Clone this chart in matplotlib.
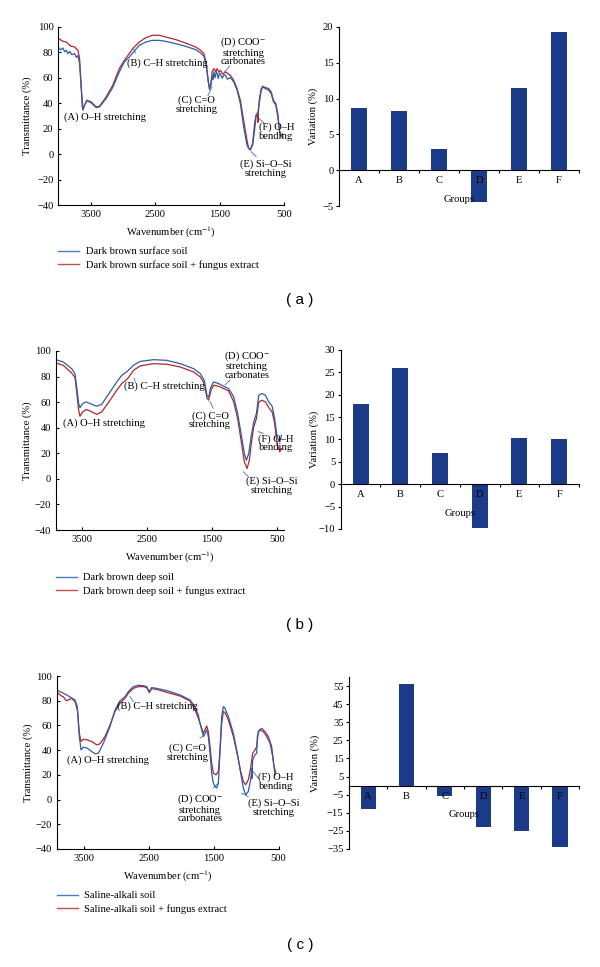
import numpy as np
import matplotlib
matplotlib.use("Agg")
import matplotlib.pyplot as plt
from matplotlib.lines import Line2D

W, H = 600, 967
plt.rcParams['font.family'] = ['Liberation Serif', 'DejaVu Serif']
plt.rcParams['mathtext.fontset'] = 'stix'
FS = 7.6

# ---------------- data ----------------
groups = ["A", "B", "C", "D", "E", "F"]
var_a = [8.7, 8.3, 2.9, -4.4, 11.5, 19.3]
var_b = [17.9, 26.0, 7.0, -9.8, 10.3, 10.1]
var_c = [-13.0, 56.0, -6.0, -23.0, -25.0, -34.0]

# (a) dark brown surface soil
a_blue_wn = [4004, 3960, 3930, 3900, 3875, 3850, 3820, 3790, 3747, 3720, 3695, 3670, 3644, 3618, 3593, 3557, 3490, 3413, 3361,
             3258, 3156, 3053, 2976, 2899, 2847, 2744, 2642, 2539, 2436, 2333, 2179, 2025, 1871, 1794, 1742,
             1706, 1675, 1655, 1634, 1614, 1600, 1588, 1570, 1550, 1537, 1520, 1500, 1485, 1460, 1430, 1408, 1380, 1331, 1280,
             1228, 1177, 1126, 1074, 1048, 1023, 987, 956, 935, 904, 884, 853, 827, 791, 740, 699, 663, 627,
             596, 570, 545, 524]
a_blue_T = [84.3, 82.0, 83.5, 80.5, 81.7, 79.0, 80.8, 78.2, 79.1, 76.0, 77.7, 71.2, 51.6, 35.9, 38.5, 41.9, 40.3, 36.6, 37.2,
            43.7, 52.4, 64.7, 72.5, 76.4, 79.6, 85.6, 88.2, 89.5, 89.5, 88.7, 86.9, 84.8, 82.2, 79.6, 77.0,
            69.9, 56.8, 51.6, 54.2, 62.0, 58.5, 64.7, 60.0, 65.0, 63.4, 59.5, 63.8, 62.8, 59.8, 62.5, 62.0, 59.0, 60.2, 56.8,
            50.3, 39.8, 21.5, 7.1, 4.5, 3.7, 8.4, 24.1, 30.6, 33.2, 39.8, 50.3, 52.9, 51.6, 50.3, 47.6, 41.1, 38.5,
            29.3, 17.5, 14.9, 13.6]
a_red_wn = [4004, 3940, 3875, 3810, 3747, 3695, 3670, 3644, 3629, 3618, 3593, 3557, 3490, 3413, 3361,
            3258, 3156, 3053, 2976, 2899, 2847, 2744, 2642, 2539, 2436, 2333, 2179, 2025, 1871, 1794, 1742,
            1706, 1675, 1655, 1634, 1614, 1588, 1560, 1537, 1510, 1485, 1450, 1408, 1331, 1280,
            1228, 1177, 1126, 1074, 1048, 1023, 987, 956, 935, 910, 904, 898, 884, 853, 827, 791, 740, 699, 663, 627,
            596, 570, 545, 524]
a_red_T = [91.4, 89.0, 88.2, 85.0, 84.3, 81.7, 75.1, 52.9, 37.2, 34.6, 38.5, 42.4, 41.1, 37.2, 37.7,
           45.0, 54.2, 67.3, 73.8, 79.1, 83.0, 88.2, 91.6, 93.5, 93.5, 92.1, 90.1, 87.4, 84.3, 81.7, 79.1,
           71.2, 58.1, 50.8, 55.5, 64.7, 67.3, 65.0, 67.3, 64.5, 66.0, 63.0, 64.7, 62.0, 58.1,
           51.6, 42.4, 26.7, 11.0, 4.5, 3.1, 7.1, 18.8, 29.3, 31.0, 25.0, 32.0, 42.4, 51.6, 53.4, 52.4, 51.6, 49.0, 42.4, 39.8,
           31.9, 18.8, 13.6, 16.2]

# (b) dark brown deep soil
b_blue_wn = [3901, 3788, 3659, 3608, 3582, 3551, 3531, 3490, 3438, 3377, 3274, 3197, 3068, 2965, 2888, 2837, 2786, 2708,
             2606, 2400, 2194, 1989, 1783, 1680, 1619, 1578, 1552, 1516, 1475, 1398, 1321, 1244, 1166, 1105, 1053,
             1002, 971, 935, 899, 858, 817, 781, 730, 678, 627, 575, 540, 498, 457, 430]
b_blue_T = [93.2, 91.4, 86.2, 82.3, 71.9, 58.9, 55.7, 58.9, 60.2, 58.9, 56.8, 58.3, 68.0, 75.8, 81.0, 82.8, 84.9, 88.8,
            91.9, 93.2, 92.7, 90.1, 86.2, 82.3, 77.1, 65.4, 64.1, 71.9, 75.8, 74.5, 72.4, 70.6, 64.1, 51.0, 35.4,
            19.8, 14.6, 19.8, 32.8, 44.5, 51.0, 65.4, 66.7, 65.4, 60.2, 56.8, 48.4, 32.8, 28.9, 34.1]
b_red_wn = [3901, 3788, 3659, 3608, 3582, 3551, 3531, 3490, 3438, 3377, 3274, 3197, 3068, 2965, 2888, 2837, 2786, 2708,
            2606, 2400, 2194, 1989, 1783, 1680, 1619, 1578, 1552, 1516, 1475, 1398, 1321, 1244, 1166, 1105, 1053,
            1002, 961, 925, 899, 858, 817, 781, 730, 678, 627, 575, 540, 498, 457, 432]
b_red_T = [90.6, 88.8, 82.8, 79.2, 68.0, 53.6, 49.0, 52.3, 54.2, 53.1, 50.5, 52.3, 61.5, 69.3, 74.5, 76.6, 79.2, 84.9,
           88.3, 90.1, 89.6, 87.5, 83.6, 79.7, 74.5, 63.5, 61.5, 69.3, 73.2, 72.4, 70.6, 68.8, 60.2, 47.1, 30.2,
           13.3, 8.1, 14.6, 26.3, 40.6, 47.1, 60.2, 61.5, 60.2, 55.7, 52.3, 44.5, 27.6, 21.1, 23.7]

# (c) saline-alkali soil
c_blue_wn = [3916, 3762, 3633, 3597, 3567, 3541, 3505, 3444, 3377, 3326, 3274, 3197, 3095, 3018, 2941, 2864, 2813, 2736,
             2659, 2582, 2531, 2490, 2454, 2377, 2223, 2017, 1864, 1787, 1736, 1710, 1684, 1659, 1633, 1608, 1582,
             1556, 1531, 1505, 1479, 1454, 1428, 1402, 1377, 1351, 1326, 1274, 1197, 1136, 1084, 1044, 1008, 967,
             931, 915, 912, 900, 864, 838, 828, 797, 736, 685, 633, 592, 556]
c_blue_T = [88.7, 84.7, 80.6, 75.2, 51.0, 40.2, 42.4, 41.6, 38.9, 37.0, 37.5, 45.6, 59.1, 72.5, 79.8, 83.3, 87.3, 91.4,
            92.5, 92.2, 91.4, 87.3, 90.6, 90.0, 88.2, 84.7, 80.6, 75.2, 68.5, 61.8, 56.4, 51.0, 53.7, 56.4, 51.0,
            37.5, 21.4, 13.3, 10.6, 9.3, 13.3, 40.2, 67.2, 75.2, 73.9, 67.2, 53.7, 37.5, 21.4, 9.3, 3.9, 6.6,
            16.0, 25.0, 17.0, 32.2, 36.2, 37.5, 51.0, 56.4, 55.0, 51.0, 45.6, 34.8, 20.0]
c_red_wn = [3916, 3850, 3813, 3770, 3736, 3685, 3633, 3597, 3567, 3541, 3505, 3444, 3377, 3300, 3249, 3172, 3095, 3018,
            2941, 2864, 2813, 2736, 2659, 2582, 2531, 2490, 2454, 2377, 2223, 2017, 1864, 1787, 1736, 1684, 1659,
            1633, 1608, 1582, 1556, 1531, 1505, 1464, 1428, 1402, 1377, 1351, 1326, 1274, 1197, 1136, 1084, 1044,
            1008, 967, 931, 900, 864, 838, 813, 762, 710, 659, 608, 572, 541]
c_red_T = [87.3, 84.0, 83.3, 80.0, 80.6, 81.9, 79.3, 72.5, 53.7, 47.0, 48.8, 48.3, 47.0, 44.3, 45.1, 51.0, 60.4, 71.2,
           77.9, 82.0, 86.0, 90.0, 91.4, 91.4, 90.6, 86.5, 89.8, 89.2, 86.8, 83.8, 79.8, 72.5, 65.8, 57.7, 53.7,
           56.4, 59.6, 55.0, 42.9, 29.5, 21.4, 20.0, 22.7, 40.2, 61.8, 71.2, 70.4, 64.5, 51.0, 36.2, 22.7, 14.6,
           12.0, 16.0, 25.4, 37.5, 40.2, 42.9, 55.0, 57.7, 55.0, 51.0, 42.9, 26.8, 21.4]

# legend labels
leg_a = ["Dark brown surface soil", "Dark brown surface soil + fungus extract"]
leg_b = ["Dark brown deep soil", "Dark brown deep soil + fungus extract"]
leg_c = ["Saline-alkali soil", "Saline-alkali soil + fungus extract"]

BLUE = '#2E5DA8'
RED = '#B2262B'
PTR = '#3A6FB5'
NAVY = '#1B3A87'


def rect(l, r, t, b):
    return [l / W, 1 - b / H, (r - l) / W, (b - t) / H]


fig = plt.figure(figsize=(W / 100, H / 100), dpi=100)


def ftir(box, xlim, bw, bt, rw, rt, labels, ann, ptrs, leg_top, ylab_x):
    ax = fig.add_axes(rect(*box))
    ax.plot(rw, rt, color=RED, lw=0.9)
    ax.plot(bw, bt, color=BLUE, lw=0.9)
    ax.set_xlim(*xlim)
    ax.set_ylim(-40, 100)
    ax.set_xticks([3500, 2500, 1500, 500])
    ax.set_yticks(np.arange(-40, 101, 20))
    ax.spines['top'].set_visible(False)
    ax.spines['right'].set_visible(False)
    ax.tick_params(direction='in', length=2.5, width=0.8, labelsize=FS, pad=3.5)
    ax.set_xlabel('Wavenumber (cm$^{-1}$)', fontsize=FS, labelpad=4)
    ax.set_ylabel('Transmittance (%)', fontsize=FS)
    ax.yaxis.set_label_coords(ylab_x, 0.5)
    for txt, x, y, ha in ann:
        ax.text(x, y, txt, fontsize=FS, ha=ha, va='center', linespacing=0.95)
    for (x0, y0, x1, y1) in ptrs:
        ax.plot([x0, x1], [y0, y1], color=PTR, lw=0.6)
    handles = [Line2D([], [], color='#4A7EC0', lw=1.0), Line2D([], [], color='#C0504D', lw=1.0)]
    fig.legend(handles, labels, loc='upper left',
               bbox_to_anchor=(box[0] / W, 1 - leg_top / H), frameon=False,
               fontsize=FS, borderpad=0, borderaxespad=0, handlelength=2.0,
               handletextpad=0.6, labelspacing=0.35)
    return ax


def bars(box, vals, ylim, yticks, ylab_x):
    ax = fig.add_axes(rect(*box))
    x = np.arange(len(groups)) + 0.5
    ax.bar(x, vals, width=0.4, color=NAVY, zorder=2)
    ax.set_axisbelow(False)
    ax.set_xlim(0, 6)
    ax.set_ylim(*ylim)
    ax.set_yticks(yticks)
    ax.spines['top'].set_visible(False)
    ax.spines['right'].set_visible(False)
    ax.spines['bottom'].set_position(('data', 0))
    ax.set_xticks(np.arange(7))
    ax.set_xticklabels([])
    ax.set_xticks(x, minor=True)
    ax.set_xticklabels(groups, minor=True)
    ax.tick_params(axis='x', which='major', direction='out', length=2.5, width=0.8)
    ax.tick_params(axis='x', which='minor', length=0, labelsize=FS, pad=4.5)
    ax.tick_params(axis='y', direction='out', length=2.5, width=0.8, labelsize=FS, pad=1.5)
    ax.set_ylabel('Variation (%)', fontsize=FS)
    ax.yaxis.set_label_coords(ylab_x, 0.5)
    ax.annotate('Groups', xy=(0.5, 0), xycoords=('axes fraction', 'data'),
                xytext=(0, -21), textcoords='offset points', ha='center', va='center',
                fontsize=FS, zorder=6)
    return ax


# ---------- (a) ----------
ann_a = [("(A) O–H stretching", 3919, 29.2, 'left'),
         ("(B) C–H stretching", 2942, 71.4, 'left'),
         ("(C) C=O\nstretching", 1857, 38.7, 'center'),
         ("(D) COO$^{-}$\nstretching\ncarbonates", 1128, 81.1, 'center'),
         ("(F) O–H\nbending", 616, 17.4, 'center'),
         ("(E) Si–O–Si\nstretching", 787, -11.7, 'center')]
ptr_a = [(2833, 82.7, 2802, 79.6), (1680, 46, 1615, 53), (1423, 64.6, 1345, 69.3),
         (890, 28.2, 817, 24.7), (1009, 1.9, 931, -2.0)]
ftir((58.3, 284, 27, 205), (4000, 500), a_blue_wn, a_blue_T, a_red_wn, a_red_T,
     leg_a, ann_a, ptr_a, 247, -0.115)
bars((339, 579, 27, 206), var_a, (-5, 20), np.arange(-5, 21, 5), -0.088)
fig.text(0.5, 1 - 300 / H, '( a )', ha='center', va='center', fontsize=11,
         family=['Liberation Sans', 'DejaVu Sans'])

# ---------- (b) ----------
ann_b = [("(A) O–H stretching", 3797, 43.9, 'left'),
         ("(B) C–H stretching", 2854, 72.1, 'left'),
         ("(C) C=O\nstretching", 1531, 46.0, 'center'),
         ("(D) COO$^{-}$\nstretching\ncarbonates", 966, 89.3, 'center'),
         ("(F) O–H\nbending", 520, 27.8, 'center'),
         ("(E) Si–O–Si\nstretching", 581, -5.6, 'center')]
ptr_b = [(2700, 78.9, 2685, 76.5), (1531, 60.4, 1480, 55.2), (1300, 73.4, 1223, 77.3),
         (788, 36.9, 711, 35.6), (1019, 5.6, 942, 1.7)]
ftir((56, 283.5, 351, 530), (3900, 400), b_blue_wn, b_blue_T, b_red_wn, b_red_T,
     leg_b, ann_b, ptr_b, 573, -0.106)
bars((340.7, 579, 350, 529), var_b, (-10, 30), np.arange(-10, 31, 5), -0.091)
fig.text(0.5, 1 - 625 / H, '( b )', ha='center', va='center', fontsize=11,
         family=['Liberation Sans', 'DejaVu Sans'])

# ---------- (c) ----------
ann_c = [("(A) O–H stretching", 3762, 32.0, 'left'),
         ("(B) C–H stretching", 2992, 75.2, 'left'),
         ("(C) C=O\nstretching", 1906, 37.7, 'center'),
         ("(D) COO$^{-}$\nstretching\ncarbonates", 1711, -6.8, 'center'),
         ("(F) O–H\nbending", 546, 14.5, 'center'),
         ("(E) Si–O–Si\nstretching", 571, -6.8, 'center')]
ptr_c = [(2788, 83.3, 2737, 79.2), (1711, 49.8, 1634, 52.3), (1506, 9.4, 1429, 13.4),
         (891, 22.6, 814, 17.2), (1069, 5.1, 968, 2.4)]
ftir((56.7, 279, 676, 849), (3915, 495), c_blue_wn, c_blue_T, c_red_wn, c_red_T,
     leg_c, ann_c, ptr_c, 891, -0.106)
bars((349, 579, 677, 849), var_c, (-35, 60), np.arange(-35, 56, 10), -0.126)
fig.text(0.5, 1 - 945 / H, '( c )', ha='center', va='center', fontsize=11,
         family=['Liberation Sans', 'DejaVu Sans'])

fig.savefig('out.png', dpi=100)
